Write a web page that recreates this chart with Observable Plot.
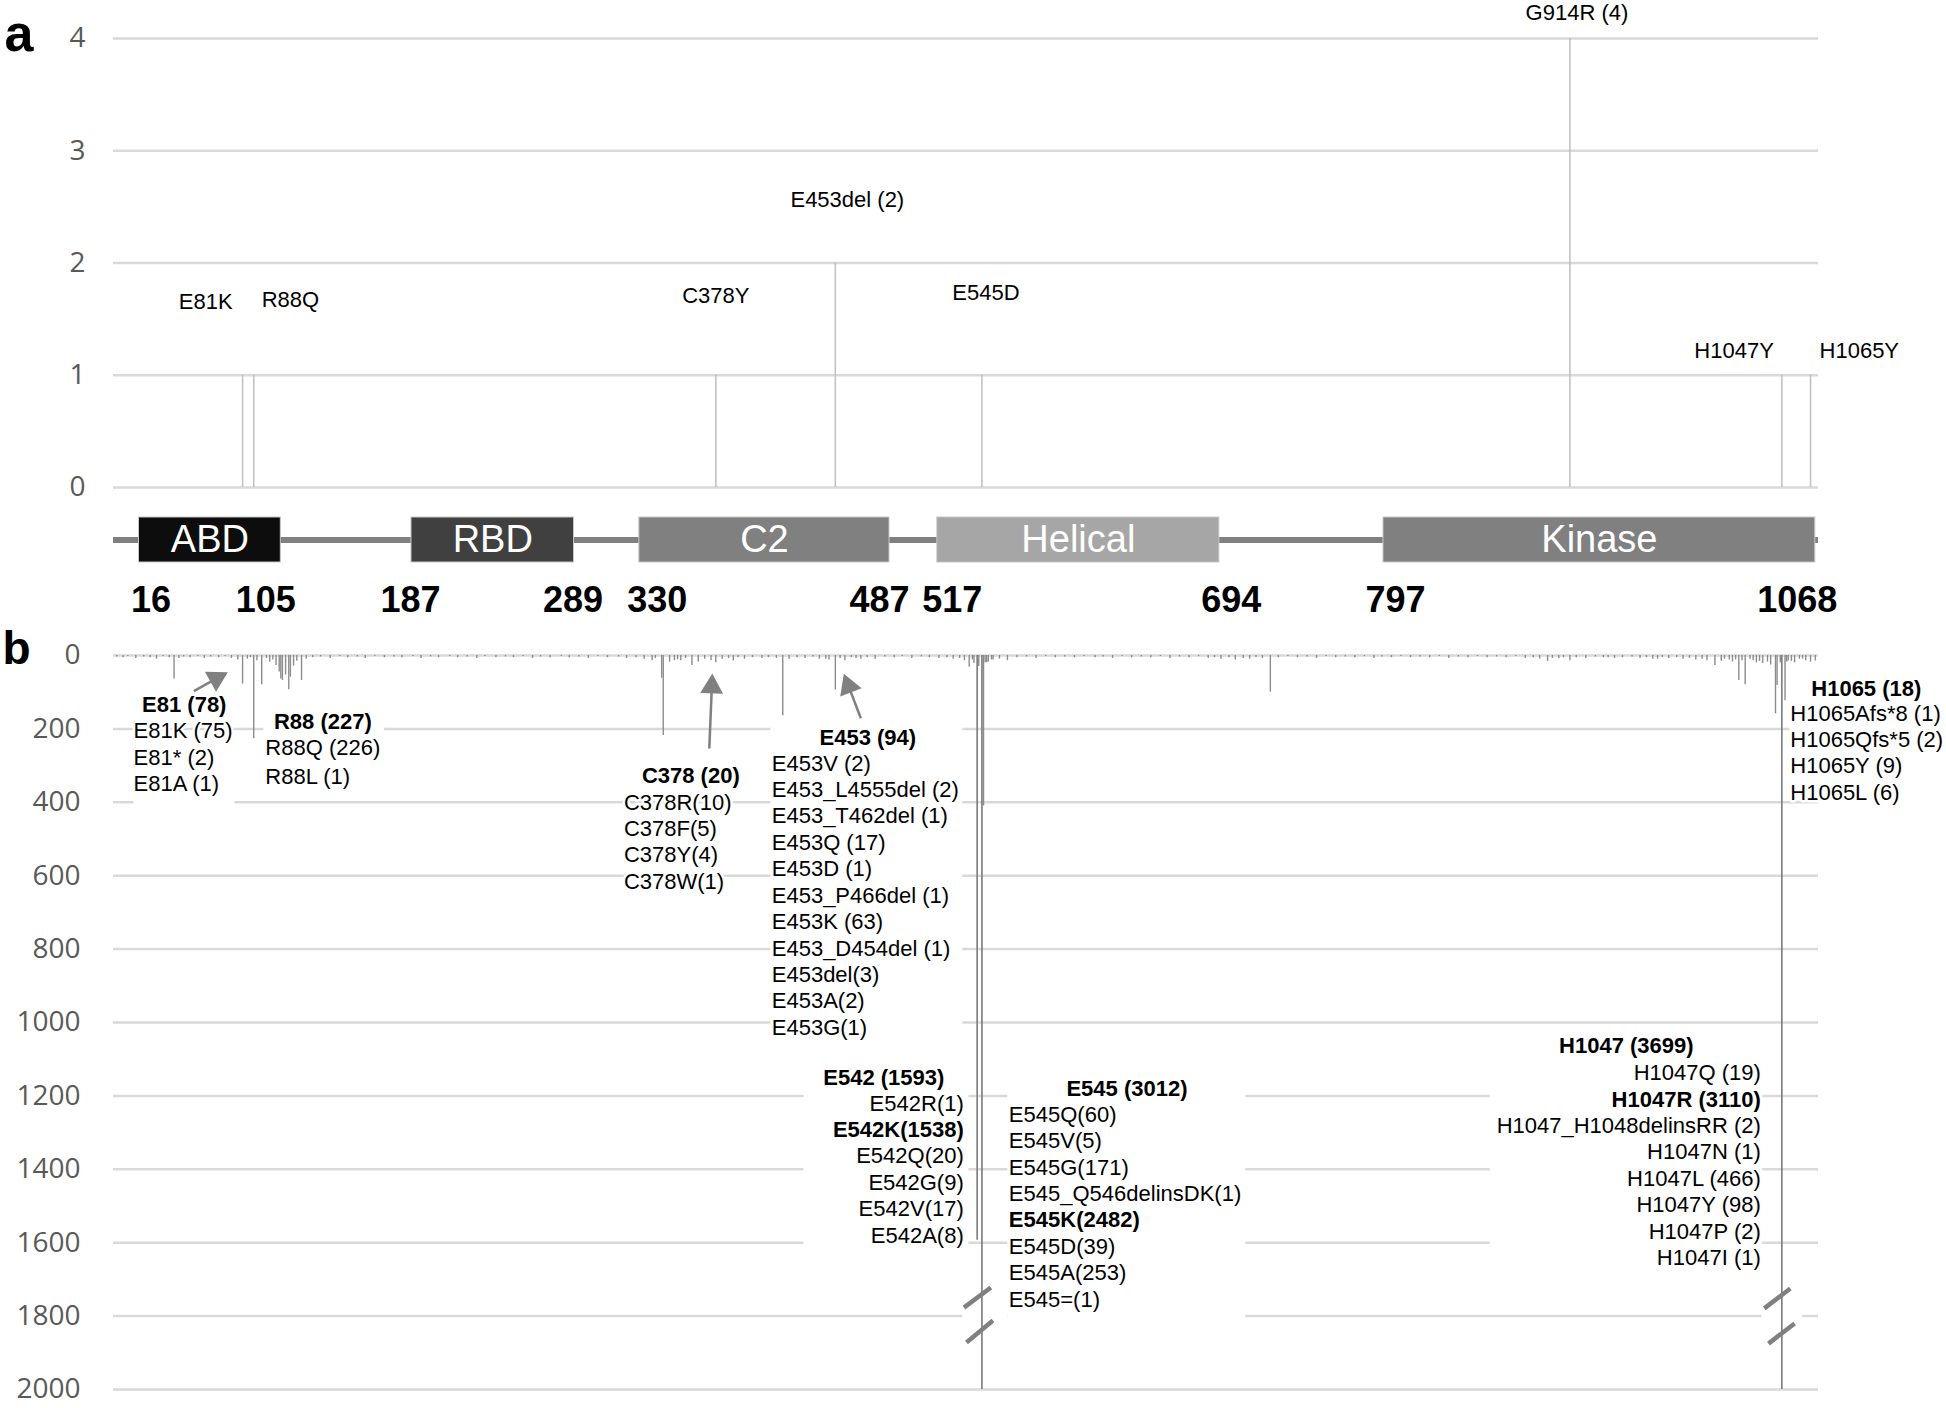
<!DOCTYPE html>
<html><head><meta charset="utf-8">
<script src="https://cdn.jsdelivr.net/npm/d3@7"></script>
<script src="https://cdn.jsdelivr.net/npm/@observablehq/plot@0.6"></script>
<style>
html,body{margin:0;padding:0;background:#fff;overflow:hidden;}
#fig{width:1946px;height:1408px;position:relative;}
#fig svg{display:block;overflow:visible;}
</style></head><body><div id="fig"></div>
<script>
// ---------------- DATA ----------------
// panel a : mutations (position, count, label)
const aPos = [81, 88, 378, 453, 545, 914, 1047, 1065];
const aCount = [1, 1, 1, 2, 1, 4, 1, 1];
const aLabel = ["E81K", "R88Q", "C378Y", "E453del (2)", "E545D", "G914R (4)", "H1047Y", "H1065Y"];
const aTicks = [0, 1, 2, 3, 4];

// protein domains
const domainNames = ["ABD", "RBD", "C2", "Helical", "Kinase"];
const domainStart = [16, 187, 330, 517, 797];
const domainEnd = [105, 289, 487, 694, 1068];

// panel b : mutation counts per residue
const bPos = [38, 81, 88, 93, 102, 104, 105, 106, 108, 110, 111, 113, 118, 344, 345, 349, 352, 356, 363, 378, 389, 416, 420, 447, 453, 469,
  537, 539, 542, 545, 546, 547, 549, 552, 726, 900, 907, 938, 969, 1005, 1020, 1024, 1043, 1044, 1047, 1049, 1051, 1058, 1060, 1065, 1068,
  2, 6, 9, 14, 19, 23, 27, 31, 35, 41, 44, 48, 53, 57, 61, 66, 70, 74, 78, 84, 86, 90, 96, 98, 100, 115, 121, 125, 130, 136, 142, 147, 153,
  158, 164, 170, 176, 181, 188, 193, 199, 204, 211, 216, 222, 228, 233, 240, 246, 251, 257, 263, 268, 274, 281, 286, 292, 298, 304, 310,
  317, 322, 328, 333, 338, 340, 354, 359, 367, 371, 375, 382, 386, 392, 396, 401, 407, 411, 424, 429, 434, 439, 443, 449, 456, 459, 463,
  466, 473, 478, 484, 490, 495, 501, 507, 512, 518, 523, 527, 531, 534, 540, 543, 548, 551, 556, 561, 567, 573, 579, 585, 591, 597, 603,
  609, 616, 621, 627, 633, 639, 645, 651, 657, 663, 669, 675, 681, 687, 691, 695, 700, 704, 709, 713, 717, 721, 731, 737, 743, 749, 755,
  761, 767, 773, 779, 785, 791, 796, 802, 808, 814, 820, 826, 832, 838, 844, 850, 856, 862, 868, 874, 880, 886, 891, 895, 903, 910, 914,
  918, 924, 930, 935, 942, 947, 953, 958, 962, 966, 972, 976, 981, 985, 989, 993, 997, 1000, 1009, 1011, 1014, 1016, 1018, 1022, 1027,
  1029, 1031, 1033, 1035, 1038, 1040, 1046, 1050, 1053, 1055, 1062, 1066];
const bCount = [64, 78, 227, 80, 27, 45, 64, 68, 53, 93, 59, 29, 68, 62, 218, 18, 14, 14, 27, 20, 15, 8, 164, 10, 94, 10,
  32, 12, 1593, 3012, 410, 20, 18, 12, 100, 16, 8, 6, 10, 27, 68, 80, 159, 82, 3699, 123, 15, 10, 10, 18, 15,
  4, 6, 3, 8, 4, 6, 10, 3, 6, 8, 4, 6, 3, 8, 4, 6, 3, 8, 12, 10, 6, 14, 8, 18, 12, 16, 10, 6, 4, 8, 3, 6, 4,
  8, 3, 6, 4, 6, 3, 8, 4, 6, 3, 6, 4, 8, 3, 6, 4, 6, 3, 8, 4, 6, 3, 6, 4, 8, 3, 6,
  4, 8, 6, 10, 14, 8, 12, 8, 18, 10, 14, 10, 8, 6, 10, 6, 8, 6, 10, 6, 8, 4, 10, 12, 8, 14, 6,
  8, 6, 10, 4, 6, 3, 8, 4, 6, 8, 6, 10, 8, 14, 22, 30, 20, 12, 10, 14, 6, 4, 8, 3, 6, 4, 6,
  3, 6, 4, 8, 3, 6, 4, 6, 3, 8, 4, 6, 3, 8, 6, 10, 6, 12, 8, 10, 6, 8, 6, 3, 6, 4, 8,
  3, 6, 4, 6, 3, 8, 4, 6, 3, 6, 4, 6, 3, 8, 4, 6, 3, 6, 4, 6, 3, 8, 6, 10, 8, 6, 14,
  6, 8, 4, 6, 8, 6, 4, 8, 6, 10, 6, 8, 6, 10, 8, 12, 10, 14, 16, 10, 12, 18, 12, 14,
  10, 14, 20, 16, 22, 18, 26, 20, 18, 16, 20, 14];
const bTicks = [0, 200, 400, 600, 800, 1000, 1200, 1400, 1600, 1800, 2000];

// panel b annotation texts
const bBlocks = [
  {head: "E81 (78)", items: ["E81K (75)", "E81* (2)", "E81A (1)"]},
  {head: "R88 (227)", items: ["R88Q (226)", "R88L (1)"]},
  {head: "C378 (20)", items: ["C378R(10)", "C378F(5)", "C378Y(4)", "C378W(1)"]},
  {head: "E453 (94)", items: ["E453V (2)", "E453_L4555del (2)", "E453_T462del (1)", "E453Q (17)", "E453D (1)", "E453_P466del (1)", "E453K (63)", "E453_D454del (1)", "E453del(3)", "E453A(2)", "E453G(1)"]},
  {head: "E542 (1593)", items: ["E542R(1)", "E542K(1538)", "E542Q(20)", "E542G(9)", "E542V(17)", "E542A(8)"], bold: ["E542K(1538)"]},
  {head: "E545 (3012)", items: ["E545Q(60)", "E545V(5)", "E545G(171)", "E545_Q546delinsDK(1)", "E545K(2482)", "E545D(39)", "E545A(253)", "E545=(1)"], bold: ["E545K(2482)"]},
  {head: "H1047 (3699)", items: ["H1047Q (19)", "H1047R (3110)", "H1047_H1048delinsRR (2)", "H1047N (1)", "H1047L (466)", "H1047Y (98)", "H1047P (2)", "H1047I (1)"], bold: ["H1047R (3110)"]},
  {head: "H1065 (18)", items: ["H1065Afs*8 (1)", "H1065Qfs*5 (2)", "H1065Y (9)", "H1065L (6)"]}
];

// ---------------- LAYOUT (annotation placement, in data units / px offsets) ----------------
const W = 1946, ML = 113, MR = 128;
const XD = [0, 1070];
const font = "'Liberation Sans', Arial, sans-serif";
const tickFont = "'Open Sans', sans-serif";

const aLayout = [
  {anchor: "end", y: 1.65, dx: -10}, {anchor: "start", y: 1.67, dx: 8}, {anchor: "middle", y: 1.71, dx: 0},
  {anchor: "middle", y: 2.56, dx: 12}, {anchor: "middle", y: 1.73, dx: 4}, {anchor: "middle", y: 4.23, dx: 7},
  {anchor: "end", y: 1.22, dx: -8}, {anchor: "start", y: 1.22, dx: 9}
];
const boundaryDx = {16: 12, 105: -15, 187: -1, 289: -1, 330: 18, 487: -10, 517: 15, 694: 12, 797: 12, 1068: -18};
// header position, item anchor x, item alignment, first item y
const bLayout = [
  {hx: 44.4, hy: 133.5, ix: 12.6, align: "start", iy: 206},
  {hx: 131.4, hy: 181.7, ix: 95.3, align: "start", iy: 253, step: 77},
  {hx: 362.3, hy: 327, ix: 320.3, align: "start", iy: 400.5},
  {hx: 473.4, hy: 223.4, ix: 413.1, align: "start", iy: 294.3},
  {hx: 483.4, hy: 1150, ix: 533.6, align: "end", iy: 1220.7},
  {hx: 636, hy: 1180, ix: 561.9, align: "start", iy: 1251},
  {hx: 949.4, hy: 1064.6, ix: 1033.8, align: "end", iy: 1138},
  {hx: 1100, hy: 90, ix: 1052.3, align: "start", iy: 158}
];
const lineStep = 72;
const whiteBoxes = [
  {x1: 12.8, x2: 76.2, y1: 250, y2: 420}, {x1: 94.4, x2: 170, y1: 140, y2: 360},
  {x1: 412.6, x2: 533, y1: 175, y2: 1050}, {x1: 433.4, x2: 536.8, y1: 1100, y2: 1650},
  {x1: 561.3, x2: 710.6, y1: 1140, y2: 1820}, {x1: 864, x2: 1035, y1: 1030, y2: 1660},
  {x1: 1052, x2: 1150, y1: 55, y2: 395},
  {x1: 533, x2: 561.3, y1: 1790, y2: 1840}, {x1: 1034.5, x2: 1060, y1: 1790, y2: 1840}
];
const breakMarks = [
  {x1: 533.7, y1: 1777, x2: 550.6, y2: 1722}, {x1: 535.3, y1: 1872, x2: 551.9, y2: 1812},
  {x1: 1036, y1: 1779, x2: 1052.3, y2: 1725}, {x1: 1038.6, y1: 1875, x2: 1055, y2: 1820}
];
const arrows = [
  {x1: 50.4, y1: 97.3, x2: 64.5, y2: 62.9, rot: 61},
  {x1: 373.9, y1: 253.4, x2: 375.5, y2: 85, rot: 2},
  {x1: 469.0, y1: 170.8, x2: 461.3, y2: 83.4, rot: -21}
];

// ---------------- BUILD ----------------
const aData = aPos.map((p, i) => ({pos: p, count: aCount[i], label: aLabel[i]}));
const bData = bPos.map((p, i) => ({pos: p, count: bCount[i]}));

const plotA = Plot.plot({
  width: W, height: 505, marginTop: 38, marginBottom: 18, marginLeft: ML, marginRight: MR,
  x: {domain: XD, axis: null},
  y: {domain: [0, 4], axis: null},
  style: {fontFamily: tickFont, color: "#595959", background: "white", overflow: "visible"},
  marks: [
    Plot.ruleY(aTicks, {stroke: "#d9d9d9", strokeWidth: 2.5}),
    Plot.axisY(aTicks, {label: null, tickSize: 0, tickPadding: 28, fontSize: 28, tickFormat: d => String(d), fontFamily: tickFont}),
    Plot.ruleX(aData, {x: "pos", y1: 0, y2: "count", stroke: "#bfbfbf", strokeWidth: 1.5}),
    ...aLayout.map((l, i) => Plot.text([aData[i]], {x: "pos", y: () => l.y, text: "label", textAnchor: l.anchor, dx: l.dx, fontSize: 22, fontFamily: font, fill: "#000"})),
    Plot.text(["a"], {frameAnchor: "top-left", lineAnchor: "middle", text: d => d, dx: -109, dy: -4, textAnchor: "start", fontSize: 52, fontWeight: "bold", fontFamily: font, fill: "#000"})
  ]
});

const domData = domainNames.map((n, i) => ({name: n, start: domainStart[i], end: domainEnd[i]}));
const domFill = {ABD: "#0d0d0d", RBD: "#404040", C2: "#808080", Helical: "#a6a6a6", Kinase: "#808080"};
const plotD = Plot.plot({
  width: W, height: 115, marginTop: 12, marginBottom: 58, marginLeft: ML, marginRight: MR,
  x: {domain: XD, axis: null},
  y: {domain: ["PIK3CA"], axis: null, padding: 0},
  style: {fontFamily: font, background: "white", overflow: "visible"},
  marks: [
    Plot.ruleY(["PIK3CA"], {stroke: "#808080", strokeWidth: 6}),
    Plot.barX(domData, {x1: "start", x2: "end", y: () => "PIK3CA", fill: d => domFill[d.name], stroke: "#c8c8c8", strokeWidth: 1}),
    Plot.text(domData, {x: d => (d.start + d.end) / 2, y: () => "PIK3CA", text: "name", fill: "white", fontSize: 38, fontFamily: font}),
    ...[...domainStart, ...domainEnd].map(v => Plot.text([v], {x: d => d, y: () => "PIK3CA", text: d => String(d), dy: 60.5, dx: boundaryDx[v], fontSize: 36, fontWeight: "bold", fontFamily: font, fill: "#000"}))
  ]
});

const heads = bBlocks.map((b, i) => ({x: bLayout[i].hx, y: bLayout[i].hy, t: b.head}));
const items = bBlocks.flatMap((b, i) => b.items.map((t, j) => ({
  x: bLayout[i].ix, y: bLayout[i].iy + j * (bLayout[i].step || lineStep), t,
  align: bLayout[i].align, bold: (b.bold || []).includes(t)
})));
const textOpts = {x: "x", y: "y", text: "t", fontSize: 22, fontFamily: font, fill: "#000", stroke: "white", strokeWidth: 5};

const plotB = Plot.plot({
  width: W, height: 788, marginTop: 35, marginBottom: 19, marginLeft: ML, marginRight: MR,
  x: {domain: XD, axis: null},
  y: {domain: [0, 2000], reverse: true, clamp: true, axis: null},
  style: {fontFamily: tickFont, color: "#595959", background: "white", overflow: "visible"},
  marks: [
    Plot.ruleY(bTicks, {stroke: "#d9d9d9", strokeWidth: 2.5}),
    Plot.axisY(bTicks, {label: null, tickSize: 0, tickPadding: 33, fontSize: 28, tickFormat: d => String(d), fontFamily: tickFont}),
    Plot.rect(whiteBoxes, {x1: "x1", x2: "x2", y1: "y1", y2: "y2", fill: "white"}),
    Plot.ruleX(bData.filter(d => d.count < 1000), {x: "pos", y1: 0, y2: "count", stroke: "#8c8c8c", strokeWidth: 1.4}),
    Plot.ruleX(bData.filter(d => d.count >= 1000), {x: "pos", y1: 0, y2: "count", stroke: "#7a7a7a", strokeWidth: 1.6}),
    Plot.link(breakMarks, {x1: "x1", y1: "y1", x2: "x2", y2: "y2", stroke: "#808080", strokeWidth: 4.5}),
    Plot.link(arrows, {x1: "x1", y1: "y1", x2: "x2", y2: "y2", stroke: "#808080", strokeWidth: 2.5}),
    ...arrows.map(a => Plot.dot([a], {x: "x2", y: "y2", symbol: "triangle", r: 8.5, fill: "#808080", rotate: a.rot})),
    Plot.text(heads, {...textOpts, fontWeight: "bold"}),
    Plot.text(items.filter(d => d.align === "start" && !d.bold), {...textOpts, textAnchor: "start"}),
    Plot.text(items.filter(d => d.align === "start" && d.bold), {...textOpts, textAnchor: "start", fontWeight: "bold"}),
    Plot.text(items.filter(d => d.align === "end" && !d.bold), {...textOpts, textAnchor: "end"}),
    Plot.text(items.filter(d => d.align === "end" && d.bold), {...textOpts, textAnchor: "end", fontWeight: "bold"}),
    Plot.text(["b"], {frameAnchor: "top-left", lineAnchor: "middle", text: d => d, dx: -111, dy: -6, textAnchor: "start", fontSize: 46, fontWeight: "bold", fontFamily: font, fill: "#000"})
  ]
});

const fig = document.getElementById("fig");
fig.appendChild(plotA);
fig.appendChild(plotD);
fig.appendChild(plotB);
</script>
</body></html>
